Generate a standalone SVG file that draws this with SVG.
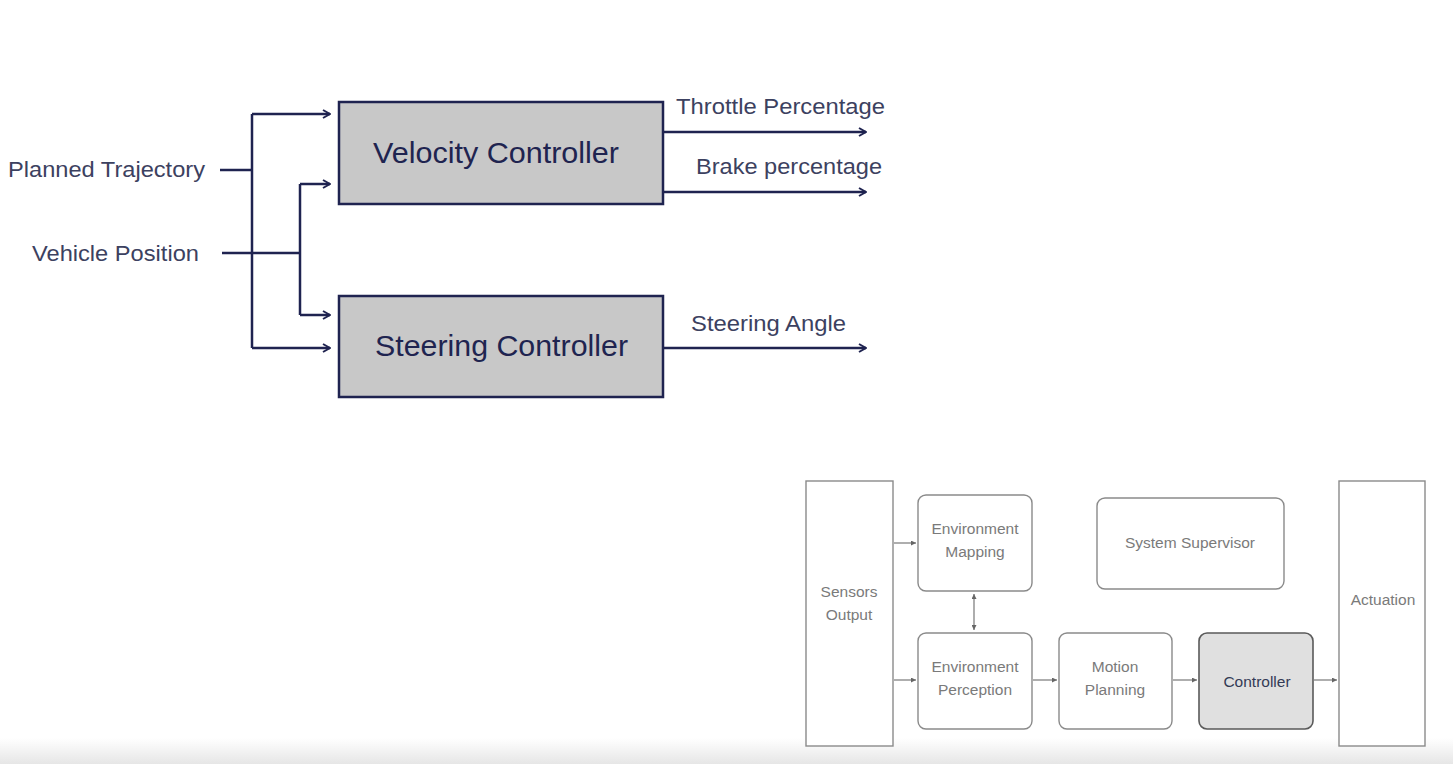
<svg xmlns="http://www.w3.org/2000/svg" width="1453" height="764" viewBox="0 0 1453 764">
<style>
.lbl{font-family:"Liberation Sans",Arial,sans-serif;font-size:22.5px;fill:#3c4160}
.big{font-family:"Liberation Sans",Arial,sans-serif;font-size:29.5px;fill:#1f2450}
.blk{fill:#c8c8c8;stroke:#1f2350;stroke-width:2.5}
.wire{fill:none;stroke:#1f2350;stroke-width:2.5}
.sm{font-family:"Liberation Sans",Arial,sans-serif;font-size:15.5px;fill:#7a7a7a;text-anchor:middle}
.sbox{fill:#fff;stroke:#8a8a8a;stroke-width:1.4}
.swire{fill:none;stroke:#777;stroke-width:1.2}
</style>
<defs>
<marker id="ah" viewBox="0 0 10 10" refX="9" refY="5" markerWidth="10" markerHeight="10" markerUnits="userSpaceOnUse" orient="auto">
<path d="M2,1 L9,5 L2,9" fill="none" stroke="#1f2350" stroke-width="2"/>
</marker>
<marker id="sa" viewBox="0 0 6 6" refX="6" refY="3" markerWidth="5" markerHeight="5" markerUnits="userSpaceOnUse" orient="auto-start-reverse">
<path d="M0,0 L6,3 L0,6 Z" fill="#666"/>
</marker>
<linearGradient id="bot" x1="0" y1="0" x2="0" y2="1">
<stop offset="0" stop-color="#ffffff"/>
<stop offset="1" stop-color="#e6e6e6"/>
</linearGradient>
</defs>
<rect width="1453" height="764" fill="#fff"/>
<rect x="0" y="738" width="1453" height="26" fill="url(#bot)"/>

<g id="connectors">
<path class="wire" d="M220,170 H252"/>
<path class="wire" d="M252,114 V348"/>
<path class="wire" d="M252,114 H330" marker-end="url(#ah)"/>
<path class="wire" d="M252,348 H330" marker-end="url(#ah)"/>
<path class="wire" d="M222,253 H300"/>
<path class="wire" d="M300,184 V315"/>
<path class="wire" d="M300,184 H330" marker-end="url(#ah)"/>
<path class="wire" d="M300,315 H330" marker-end="url(#ah)"/>
<path class="wire" d="M663,132 H866" marker-end="url(#ah)"/>
<path class="wire" d="M663,192 H866" marker-end="url(#ah)"/>
<path class="wire" d="M663,348 H866" marker-end="url(#ah)"/>
<path class="swire" d="M894,543 H916" marker-end="url(#sa)"/>
<path class="swire" d="M894,680 H916" marker-end="url(#sa)"/>
<path class="swire" d="M974,594 V630" marker-start="url(#sa)" marker-end="url(#sa)"/>
<path class="swire" d="M1033,680 H1057" marker-end="url(#sa)"/>
<path class="swire" d="M1173,680 H1197" marker-end="url(#sa)"/>
<path class="swire" d="M1314,680 H1337" marker-end="url(#sa)"/>
</g>

<g id="labels">
<text class="lbl" x="8" y="177" textLength="197" lengthAdjust="spacingAndGlyphs">Planned Trajectory</text>
<text class="lbl" x="32" y="261" textLength="167" lengthAdjust="spacingAndGlyphs">Vehicle Position</text>
<text class="lbl" x="676" y="114" textLength="209" lengthAdjust="spacingAndGlyphs">Throttle Percentage</text>
<text class="lbl" x="696" y="174" textLength="186" lengthAdjust="spacingAndGlyphs">Brake percentage</text>
<text class="lbl" x="691" y="331" textLength="155" lengthAdjust="spacingAndGlyphs">Steering Angle</text>
</g>

<g id="velocity-controller">
<rect class="blk" x="339" y="102" width="324" height="102"/>
<text class="big" x="373" y="163" textLength="246" lengthAdjust="spacingAndGlyphs">Velocity Controller</text>
</g>
<g id="steering-controller">
<rect class="blk" x="339" y="296" width="324" height="101"/>
<text class="big" x="375" y="356" textLength="253" lengthAdjust="spacingAndGlyphs">Steering Controller</text>
</g>

<g id="sensors-output">
<rect class="sbox" x="806" y="481" width="87" height="265"/>
<text class="sm" x="849" y="597">Sensors</text>
<text class="sm" x="849" y="620">Output</text>
</g>
<g id="environment-mapping">
<rect class="sbox" x="918" y="495" width="114" height="96" rx="8"/>
<text class="sm" x="975" y="534">Environment</text>
<text class="sm" x="975" y="557">Mapping</text>
</g>
<g id="environment-perception">
<rect class="sbox" x="918" y="633" width="114" height="96" rx="8"/>
<text class="sm" x="975" y="672">Environment</text>
<text class="sm" x="975" y="695">Perception</text>
</g>
<g id="motion-planning">
<rect class="sbox" x="1059" y="633" width="113" height="96" rx="8"/>
<text class="sm" x="1115" y="672">Motion</text>
<text class="sm" x="1115" y="695">Planning</text>
</g>
<g id="controller">
<rect x="1199" y="633" width="114" height="96" rx="8" fill="#e0e0e0" stroke="#5a5a5a" stroke-width="1.6"/>
<text class="sm" x="1257" y="687" style="fill:#333a55">Controller</text>
</g>
<g id="system-supervisor">
<rect class="sbox" x="1097" y="498" width="187" height="91" rx="8"/>
<text class="sm" x="1190" y="548">System Supervisor</text>
</g>
<g id="actuation">
<rect class="sbox" x="1339" y="481" width="86" height="265"/>
<text class="sm" x="1383" y="605">Actuation</text>
</g>
</svg>
